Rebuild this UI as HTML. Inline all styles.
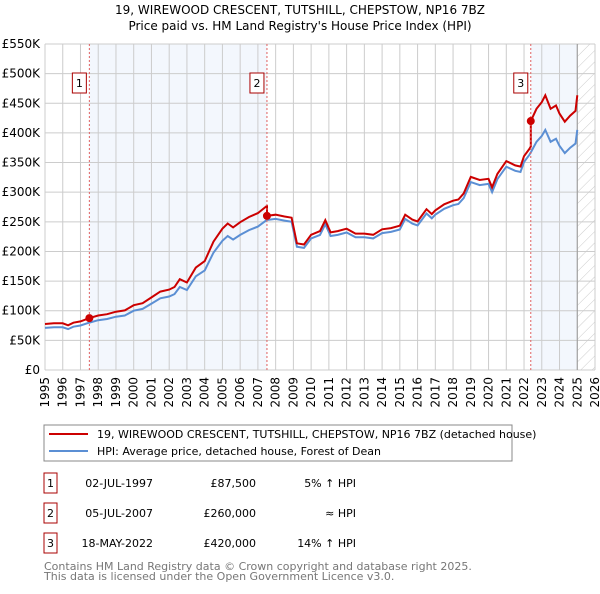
<!DOCTYPE html>
<html><head><meta charset="utf-8"><style>
body{margin:0;background:#fff;width:600px;height:590px;overflow:hidden;font-family:"DejaVu Sans","Liberation Sans",sans-serif}
svg text{font-family:"DejaVu Sans","Liberation Sans",sans-serif}
</style></head><body>
<svg id="c" width="600" height="590">
<defs><pattern id="hatch" width="8" height="8" patternUnits="userSpaceOnUse" patternTransform="rotate(45)"><line x1="0" y1="0" x2="0" y2="8" stroke="#ccc" stroke-width="1"/></pattern></defs>
<text x="300" y="14" text-anchor="middle" font-size="12">19, WIREWOOD CRESCENT, TUTSHILL, CHEPSTOW, NP16 7BZ</text>
<text x="300" y="30" text-anchor="middle" font-size="12">Price paid vs. HM Land Registry's House Price Index (HPI)</text>
<g id="plot"></g>
<rect x="44" y="425" width="468" height="36" fill="#fff" stroke="#888"/>
<line x1="49" y1="434" x2="88" y2="434" stroke="#cc0000" stroke-width="2"/>
<text x="97" y="438" font-size="11">19, WIREWOOD CRESCENT, TUTSHILL, CHEPSTOW, NP16 7BZ (detached house)</text>
<line x1="49" y1="451" x2="88" y2="451" stroke="#5b8fd4" stroke-width="2"/>
<text x="97" y="455" font-size="11">HPI: Average price, detached house, Forest of Dean</text>
<g id="table" font-size="11"></g>
<text x="44" y="570" font-size="11" fill="#777">Contains HM Land Registry data © Crown copyright and database right 2025.</text>
<text x="44" y="580" font-size="11" fill="#777">This data is licensed under the Open Government Licence v3.0.</text>
</svg>
<script>
const hpiYears=[1995,1995.5,1996,1996.3,1996.6,1997,1997.5,1998,1998.5,1999,1999.5,2000,2000.5,2001,2001.5,2002,2002.3,2002.6,2003,2003.5,2004,2004.5,2005,2005.3,2005.6,2006,2006.5,2007,2007.5,2008,2008.5,2008.9,2009.2,2009.6,2010,2010.5,2010.8,2011.1,2011.5,2012,2012.5,2013,2013.5,2014,2014.5,2015,2015.3,2015.7,2016,2016.5,2016.8,2017,2017.5,2018,2018.3,2018.6,2019,2019.5,2020,2020.2,2020.5,2021,2021.5,2021.8,2022,2022.3,2022.4,2022.7,2023,2023.2,2023.5,2023.8,2024,2024.3,2024.6,2024.9,2025];
const hpiValues=[71,72,72,69,73,75,80,84,86,90,92,100,103,112,121,124,128,140,135,158,168,198,218,226,220,228,236,242,253,255,252,250,208,206,222,228,246,226,228,232,224,224,222,231,233,237,255,247,244,264,256,262,272,278,280,290,317,312,314,300,322,343,336,334,351,363,368,385,395,405,385,390,378,366,375,382,405];
const sales=[{label:'1',date:'02-JUL-1997',year:1997.5,price:87.5,pct:'5% ↑ HPI'},{label:'2',date:'05-JUL-2007',year:2007.51,price:260,pct:'≈ HPI'},{label:'3',date:'18-MAY-2022',year:2022.38,price:420,pct:'14% ↑ HPI'}];
const yTicks=[0,50,100,150,200,250,300,350,400,450,500,550];
const yTickLabels=['£0','£50K','£100K','£150K','£200K','£250K','£300K','£350K','£400K','£450K','£500K','£550K'];
const x0=45,x1=595,y0=370,y1=44,yMin=1995,yMax=2026,vMax=550;
const X=t=>x0+(t-yMin)/(yMax-yMin)*(x1-x0);
const Y=v=>y0-v/vMax*(y0-y1);
const NS='http://www.w3.org/2000/svg';
const g=document.getElementById('plot');
function mk(tag,attrs,parent){const e=document.createElementNS(NS,tag);for(const k in attrs)e.setAttribute(k,attrs[k]);(parent||g).appendChild(e);return e;}
function hpiAt(t){for(let i=1;i<hpiYears.length;i++){if(t<=hpiYears[i]){const f=(t-hpiYears[i-1])/(hpiYears[i]-hpiYears[i-1]);return hpiValues[i-1]+f*(hpiValues[i]-hpiValues[i-1]);}}return hpiValues[hpiValues.length-1];}
let e=mk('rect',{x:x0,y:y1,width:x1-x0,height:y0-y1,fill:'#fff'});

e=mk('rect',{x:X(sales[0].year),y:y1,width:X(sales[1].year)-X(sales[0].year),height:y0-y1,fill:'#eef3fc',opacity:0.7});

e=mk('rect',{x:X(sales[2].year),y:y1,width:X(2025)-X(sales[2].year),height:y0-y1,fill:'#eef3fc',opacity:0.7});

e=mk('rect',{x:X(2025),y:y1,width:x1-X(2025),height:y0-y1,fill:'url(#hatch)'});

for(let yr=1995;yr<=2026;yr++){
 e=mk('line',{x1:X(yr),x2:X(yr),y1:y1,y2:y0,stroke:'#ccc','stroke-width':1});
 
 const tx=X(yr)+4;
 e=mk('text',{x:tx,y:377,'font-size':12,'text-anchor':'end',transform:`rotate(-90 ${tx} 377)`});
 e.textContent=yr;
 
}
yTicks.forEach((v,i)=>{
 e=mk('line',{x1:x0,x2:x1,y1:Y(v),y2:Y(v),stroke:'#ccc','stroke-width':1});
 
 e=mk('text',{x:40,y:Y(v)+4,'font-size':12,'text-anchor':'end'});
 e.textContent=yTickLabels[i];
 
});
e=mk('line',{x1:X(2025),x2:X(2025),y1:y1,y2:y0,stroke:'#999','stroke-width':1});

let d='';hpiYears.forEach((t,i)=>{d+=(i?'L':'M')+X(t).toFixed(1)+','+Y(hpiValues[i]).toFixed(1);});
e=mk('path',{d:d,fill:'none',stroke:'#5b8fd4','stroke-width':2});

function factor(t){let f=sales[0].price/hpiAt(sales[0].year);for(const s of sales){if(t>=s.year)f=s.price/hpiAt(s.year);}return f;}
let pts=[];
hpiYears.forEach((t,i)=>{
 for(const s of sales){if(s.year>(i?hpiYears[i-1]:0)&&s.year<=t){pts.push([s.year,hpiAt(s.year)*factor(s.year-0.001)]);pts.push([s.year,s.price]);}}
 pts.push([t,hpiValues[i]*factor(t)]);
});
d='';pts.forEach((p,i)=>{d+=(i?'L':'M')+X(p[0]).toFixed(1)+','+Y(p[1]).toFixed(1);});
e=mk('path',{d:d,fill:'none',stroke:'#cc0000','stroke-width':2});

sales.forEach(s=>{
 e=mk('line',{x1:X(s.year),x2:X(s.year),y1:y1,y2:y0,stroke:'#e06060','stroke-width':1,'stroke-dasharray':'2,2'});
 
 e=mk('circle',{cx:X(s.year),cy:Y(s.price),r:4,fill:'#cc0000'});
 
 e=mk('rect',{x:X(s.year)-17,y:73,width:14,height:20,fill:'#fff',stroke:'#aa0000'});
 
 e=mk('text',{x:X(s.year)-10,y:87,'font-size':11,'text-anchor':'middle'});e.textContent=s.label;
 
});
const tb=document.getElementById('table');
sales.forEach((s,i)=>{
 const cy=483+i*30;
 e=mk('rect',{x:44,y:cy-10,width:13,height:20,fill:'#fff',stroke:'#aa0000'},tb);
 
 e=mk('text',{x:50.5,y:cy+4,'text-anchor':'middle'},tb);e.textContent=s.label;
 
 e=mk('text',{x:153,y:cy+4,'text-anchor':'end'},tb);e.textContent=s.date;
 
 e=mk('text',{x:256,y:cy+4,'text-anchor':'end'},tb);e.textContent='£'+(s.price*1000).toLocaleString('en-GB');
 
 e=mk('text',{x:356,y:cy+4,'text-anchor':'end'},tb);e.textContent=s.pct;
 
});
</script>
</body></html>
